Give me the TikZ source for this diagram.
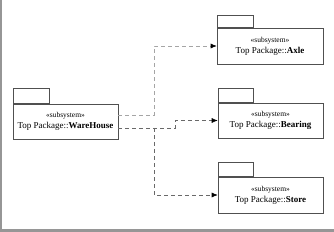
\documentclass[tikz,border=0pt]{standalone}
\usepackage{fontspec}
\setmainfont{Liberation Serif}
\usetikzlibrary{arrows.meta, positioning, calc}
\definecolor{EdgeGray}{RGB}{80, 80, 80}
\definecolor{LinkGray}{RGB}{105, 105, 105}
\definecolor{LinkLight}{RGB}{165, 165, 165}
\definecolor{FrameGray}{RGB}{150, 150, 150}

\newcommand{\pkglabel}[1]{{\fontsize{7.5}{8}\selectfont«subsystem»}\\Top Package::\textbf{#1}}

\begin{document}
\begin{tikzpicture}[x=1pt, y=-1pt, >={Latex[length=6pt, width=5pt, black]},
    pkgbody/.style={draw=EdgeGray, line width=0.6pt, minimum width=105pt, minimum height=36pt,
                    inner sep=0pt, align=center, font=\fontsize{9}{11}\selectfont},
    pkgtab/.style={draw=EdgeGray, line width=0.6pt, minimum width=35pt, minimum height=14pt,
                   inner sep=0pt, anchor=south west},
    depend/.style={->, dash pattern=on 4pt off 3pt, line width=0.6pt, draw=LinkGray}]
    \useasboundingbox (0,0) rectangle (334,232);

    % Window frame edges
    \draw[FrameGray, line width=2pt] (1,0) -- (1,230.5);
    \draw[FrameGray, line width=3pt] (0,230.5) -- (334,230.5);

    % Source package
    \node[pkgbody, minimum height=35pt] (warehouse) at (65.5,121.5) {\pkglabel{WareHouse}};
    \node[pkgtab, minimum width=36pt, minimum height=15pt] (warehousetab) at (warehouse.north west) {};

    % Target packages
    \node[pkgbody, minimum width=106pt] (axle) at (270,46) {\pkglabel{Axle}};
    \node[pkgtab, minimum width=36pt, minimum height=12pt] (axletab) at (axle.north west) {};

    \node[pkgbody, minimum height=35pt] (bearing) at (270.5,120.5) {\pkglabel{Bearing}};
    \node[pkgtab] (bearingtab) at (bearing.north west) {};

    \node[pkgbody] (store) at (270.5,195) {\pkglabel{Store}};
    \node[pkgtab] (storetab) at (store.north west) {};

    % Dependencies
    \coordinate (whup) at ($(warehouse.east)+(0,-6.5)$);
    \coordinate (whdown) at ($(warehouse.east)+(0,6.5)$);
    \coordinate (split) at ($(whdown)+(36,0)$);
    \draw[depend, draw=LinkLight] (whup) -- ++(36,0) |- (axle.west);
    \draw[depend] (whdown) -- ++(57,0) |- (bearing.west);
    \draw[depend] (split) |- (store.west);
\end{tikzpicture}
\end{document}
